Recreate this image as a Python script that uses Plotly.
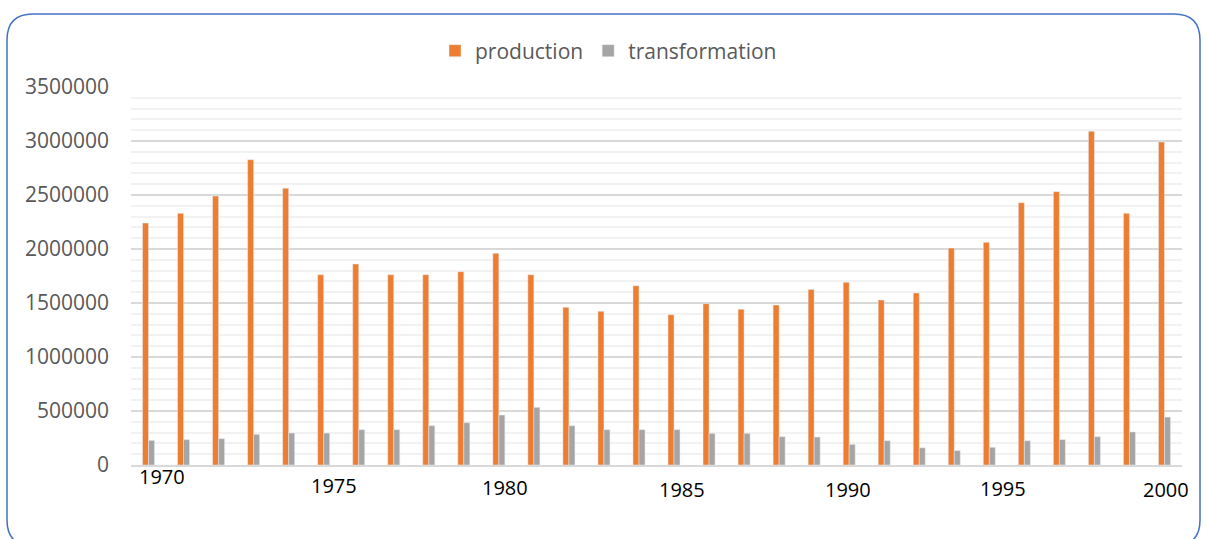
import plotly.graph_objects as go

# data
years = [1970, 1971, 1972, 1973, 1974, 1975, 1976, 1977, 1978, 1979,
         1980, 1981, 1982, 1983, 1984, 1985, 1986, 1987, 1988, 1989,
         1990, 1991, 1992, 1993, 1994, 1995, 1996, 1997, 1998, 1999]
production = [2240000, 2330000, 2490000, 2827000, 2562000, 1762000, 1861000, 1762000, 1762000, 1790000,
              1960000, 1762000, 1460000, 1423000, 1660000, 1392000, 1494000, 1441000, 1481000, 1626000,
              1691000, 1528000, 1593000, 2009000, 2062000, 2429000, 2531000, 3090000, 2330000, 2991000]
transformation = [228000, 235000, 244000, 284000, 296000, 296000, 327000, 327000, 364000, 392000,
                  463000, 534000, 364000, 327000, 327000, 327000, 293000, 293000, 262000, 259000,
                  191000, 225000, 160000, 133000, 164000, 225000, 235000, 262000, 306000, 444000]
year_labels = ["1970", "1975", "1980", "1985", "1990", "1995", "2000"]

W, H = 1206, 539
L, R, T, B = 131, 1182, 87, 465


def fx(p):
    return (p - L) / (R - L)


def fy(p):
    return (B - p) / (B - T)


# where the free-floating year text boxes sit (pixels)
label_pos = [(162, 477), (334, 485), (505, 487), (682, 490), (848, 490), (1003, 488), (1166, 490)]

fig = go.Figure()
fig.add_bar(x=[str(y) for y in years], y=production, name="production", marker_color="#ED7D31")
fig.add_bar(x=[str(y) for y in years], y=transformation, name="transformation", marker_color="#A5A5A5")

for txt, (px_, py_) in zip(year_labels, label_pos):
    fig.add_annotation(x=fx(px_), y=fy(py_), xref="paper", yref="paper", text=txt, showarrow=False,
                       font=dict(family="Open Sans", size=20, color="#000000"), xanchor="center", yanchor="middle")

# rounded border around the chart (bottom edge runs off the picture)
x0, y0, x1, y1, r = 7, 14, 1200, 546, 26
path = (f"M {fx(x0)},{fy(y0 + r)} L {fx(x0)},{fy(y1 - r)} Q {fx(x0)},{fy(y1)} {fx(x0 + r)},{fy(y1)} "
        f"L {fx(x1 - r)},{fy(y1)} Q {fx(x1)},{fy(y1)} {fx(x1)},{fy(y1 - r)} "
        f"L {fx(x1)},{fy(y0 + r)} Q {fx(x1)},{fy(y0)} {fx(x1 - r)},{fy(y0)} "
        f"L {fx(x0 + r)},{fy(y0)} Q {fx(x0)},{fy(y0)} {fx(x0)},{fy(y0 + r)} Z")
fig.add_shape(type="path", path=path, xref="paper", yref="paper", line=dict(color="#4472C4", width=1.5))

fig.update_layout(
    width=W, height=H,
    margin=dict(l=L, r=W - R, t=T, b=H - B),
    paper_bgcolor="white", plot_bgcolor="white",
    barmode="group", bargap=0.657, bargroupgap=0,
    font=dict(family="Open Sans", size=21, color="#595959"),
    legend=dict(orientation="h", x=fx(435), y=fy(51), xanchor="left", yanchor="middle",
                font=dict(size=21, color="#595959"), itemwidth=30, bgcolor="rgba(0,0,0,0)"),
    showlegend=True,
)
fig.update_xaxes(showticklabels=False, ticks="", showgrid=False, showline=True, linecolor="#D9D9D9", linewidth=1.5)
fig.update_yaxes(range=[0, 3500000], dtick=500000, tickformat="d", showgrid=True, gridcolor="#D9D9D9",
                 gridwidth=1.5, zeroline=False, ticks="", ticklabelstandoff=21,
                 tickfont=dict(size=21, color="#595959"),
                 minor=dict(dtick=100000, showgrid=True, gridcolor="#F2F2F2", gridwidth=1.5))

fig.write_html("out.html", config={"displayModeBar": False},
               post_script="document.body.style.margin='0';")
